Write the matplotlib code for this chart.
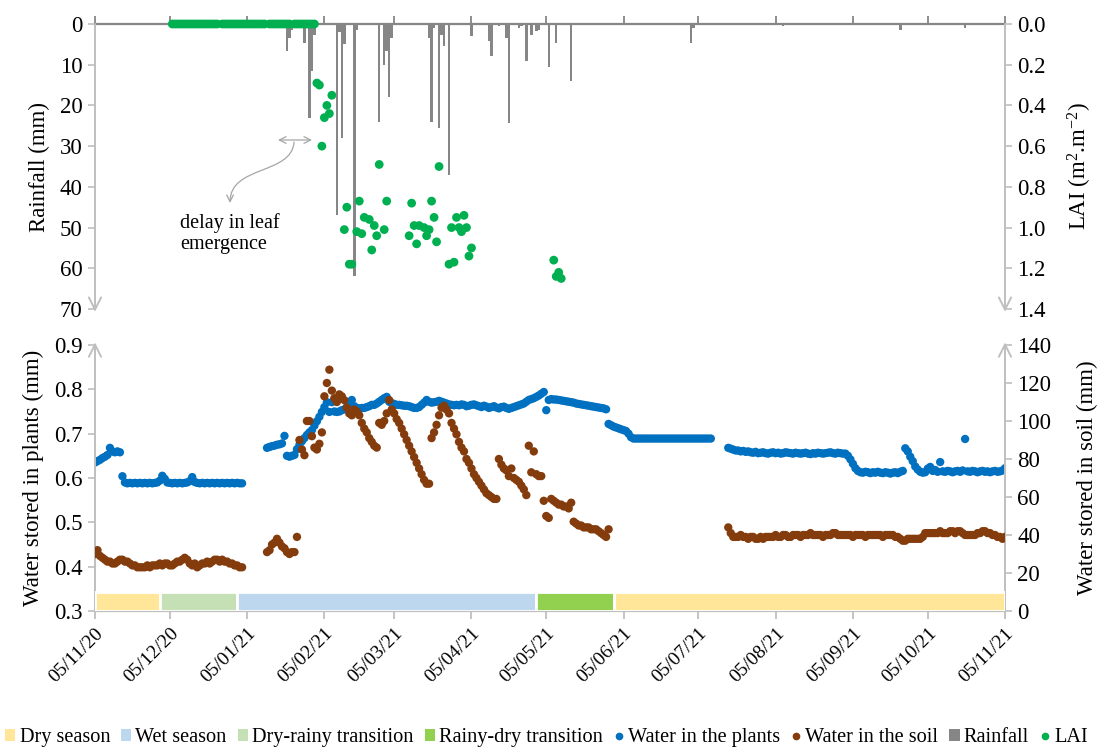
import numpy as np
import pandas as pd
import matplotlib
matplotlib.use("Agg")
import matplotlib.pyplot as plt
import matplotlib.dates as mdates
from matplotlib.patches import Patch, FancyArrowPatch
from matplotlib.lines import Line2D
from matplotlib.path import Path

plt.rcParams["font.family"] = ["Liberation Serif", "DejaVu Serif"]
plt.rcParams["mathtext.fontset"] = "custom"
plt.rcParams["mathtext.rm"] = "Liberation Serif"
plt.rcParams["mathtext.it"] = "Liberation Serif:italic"

START = pd.Timestamp("2020-11-05")
END = pd.Timestamp("2021-11-05")

# ---------------- rainfall (mm) ----------------
rain_dates = ["2021-01-21", "2021-01-22", "2021-01-23", "2021-01-28", "2021-01-30",
              "2021-01-31", "2021-02-01", "2021-02-10", "2021-02-11", "2021-02-12",
              "2021-02-13", "2021-02-17", "2021-02-18", "2021-02-27", "2021-03-01",
              "2021-03-02", "2021-03-03", "2021-03-04", "2021-03-19", "2021-03-20",
              "2021-03-21", "2021-03-23", "2021-03-24", "2021-03-25", "2021-03-27",
              "2021-04-05", "2021-04-12", "2021-04-13", "2021-04-16", "2021-04-19",
              "2021-04-20", "2021-04-24", "2021-04-25", "2021-04-27", "2021-04-29",
              "2021-05-01", "2021-05-02", "2021-05-06", "2021-05-09", "2021-05-15",
              "2021-07-02", "2021-07-03", "2021-08-08", "2021-09-24", "2021-10-20"]
rain_mm = [6.6, 3.4, 1.5, 4.7, 23.0,
           11.5, 2.7, 47.0, 2.0, 28.0,
           5.0, 62.0, 1.5, 24.0, 10.0,
           6.6, 18.0, 3.4, 3.4, 24.0,
           1.0, 25.6, 2.7, 5.4, 37.0,
           3.0, 4.2, 7.9, 0.5, 3.4,
           24.3, 1.0, 0.5, 9.0, 2.7,
           1.7, 1.5, 10.6, 4.7, 14.0,
           4.7, 1.0, 0.5, 1.5, 1.0]

# ---------------- LAI (m2.m-2), daily, None = no measurement ----------------
lai_start_1 = "2020-12-06"
lai_values_1 = [0, 0, 0, 0, 0, 0, 0, 0, 0, 0, 0, 0, 0, 0, 0, 0, 0, 0, 0, None,
                0, 0, 0, 0, 0, 0, 0, 0, 0, 0, 0, 0, 0, 0, 0, 0, 0, 0, None,
                0, 0, 0, 0, 0, 0, 0, 0, 0, None,
                0, 0, 0, 0, 0, 0, 0, 0, 0,
                0.29, 0.30, 0.60, 0.46, 0.40, 0.44, 0.35, None, None, None, None,
                1.01, 0.90, 1.18, 1.18, None, 1.02, 0.87, 1.03, 0.95, None,
                0.96, 1.11, 0.99, 1.04, 0.69, None, 1.01, 0.87]
lai_start_2 = "2021-03-11"
lai_values_2 = [1.04, 0.88, 0.99, 1.08, 0.99, None, 1.00, 1.04, 1.01, 0.87,
                0.95, 1.07, 0.70, None, None, None, 1.18, 1.00, 1.17, 0.95,
                1.00, 1.02, 0.94, 1.00, 1.14, 1.10]
lai_start_3 = "2021-05-08"
lai_values_3 = [1.16, 1.24, 1.22, 1.25]

# ---------------- water stored in plants (mm), daily ----------------
plants_start_1 = "2020-11-05"
plants_values_1 = [0.635, 0.638, 0.641, 0.645, 0.648, 0.652, 0.668, 0.660, 0.658, 0.660,
                   0.658, 0.604,
                   0.590, 0.588, 0.589, 0.588, 0.589, 0.588, 0.589, 0.588, 0.589, 0.588,
                   0.589, 0.588, 0.589, 0.590, 0.594, 0.605, 0.598, 0.590, 0.589, 0.588,
                   0.589, 0.588, 0.589, 0.588, 0.589, 0.590, 0.593, 0.602, 0.591, 0.589,
                   0.588, 0.589, 0.588, 0.589, 0.588, 0.589, 0.588, 0.589, 0.588, 0.589,
                   0.588, 0.589, 0.588, 0.589, 0.588, 0.589, 0.588, 0.588]
plants_start_2 = "2021-01-13"
plants_values_2 = [0.668, 0.670, 0.672, 0.673, 0.675, 0.676, 0.678,
                   0.695, 0.650, 0.648, 0.650, 0.652, 0.665, 0.675, 0.683, 0.690, 0.697,
                   0.703, 0.708, 0.718, 0.728, 0.738, 0.749, 0.760, 0.771,
                   0.749, 0.771, 0.750, 0.749, 0.750, 0.753, 0.755, 0.760, 0.768, 0.776,
                   0.762, 0.758, 0.757, 0.758, 0.758, 0.760, 0.762, 0.765, 0.765, 0.768,
                   0.772, 0.776, 0.780, 0.783,
                   0.772, 0.769, 0.767, 0.765, 0.765, 0.764, 0.763, 0.763, 0.762, 0.760,
                   0.758, 0.758, 0.760, 0.765, 0.770, 0.776, 0.772, 0.770, 0.771, 0.772,
                   0.774, 0.772, 0.770, 0.768,
                   0.766, 0.765, 0.764, 0.765, 0.764, 0.766, 0.765, 0.762, 0.763, 0.765,
                   0.766, 0.764, 0.762, 0.760, 0.763, 0.761, 0.758, 0.760, 0.762, 0.759,
                   0.757, 0.760, 0.761, 0.758,
                   0.756, 0.758, 0.760, 0.762, 0.764, 0.766, 0.768, 0.772, 0.776, 0.778,
                   0.780, 0.783, 0.786, 0.790, 0.794, 0.753, 0.776, 0.778, 0.777, 0.777,
                   0.776, 0.775, 0.774, 0.773,
                   0.772, 0.771, 0.770, 0.768, 0.767, 0.766, 0.765, 0.764, 0.763, 0.762,
                   0.761, 0.760, 0.759, 0.758, 0.757, 0.755, 0.722, 0.719, 0.716, 0.714,
                   0.712, 0.710, 0.708, 0.706,
                   0.700, 0.692, 0.689, 0.689, 0.689, 0.689, 0.689, 0.689, 0.689, 0.689,
                   0.689, 0.689, 0.689, 0.689, 0.689, 0.689, 0.689, 0.689, 0.689, 0.689,
                   0.689, 0.689, 0.689, 0.689, 0.689, 0.689, 0.689, 0.689, 0.689, 0.689,
                   0.689, 0.689, 0.689, 0.689]
plants_start_3 = "2021-07-17"
plants_values_3 = [0.668, 0.666, 0.664, 0.662, 0.662, 0.660, 0.661, 0.659, 0.660,
                   0.658, 0.657, 0.659, 0.656, 0.657, 0.658, 0.656, 0.655, 0.657, 0.658,
                   0.656, 0.657, 0.655, 0.656, 0.658, 0.657, 0.656, 0.655, 0.657, 0.656,
                   0.655, 0.656, 0.657, 0.655, 0.654, 0.656, 0.655, 0.657, 0.656, 0.655,
                   0.656, 0.657, 0.658, 0.656, 0.655, 0.657, 0.656, 0.655,
                   0.655, 0.650, 0.642, 0.632, 0.622, 0.616,
                   0.613, 0.612, 0.614, 0.613, 0.611, 0.613, 0.612, 0.614, 0.612, 0.611,
                   0.613, 0.612, 0.610, 0.612, 0.613, 0.611, 0.614, 0.616,
                   0.667, 0.660, 0.648, 0.638, 0.626, 0.619, 0.614, 0.612, 0.613, 0.621,
                   0.625, 0.616, 0.618, 0.614, 0.636,
                   0.615, 0.614, 0.616, 0.615, 0.613, 0.615, 0.616, 0.614, 0.617, 0.688,
                   0.615, 0.614, 0.616, 0.615, 0.613, 0.615, 0.616, 0.614, 0.615, 0.613,
                   0.615, 0.616, 0.614, 0.615, 0.617, 0.622]

# ---------------- water stored in soil (mm), daily ----------------
soil_start_1 = "2020-11-05"
soil_values_1 = [30, 32, 29, 28, 27, 26, 26, 25, 25, 26,
                 27, 27, 26, 26, 25, 24, 24, 23, 23, 23,
                 23, 24, 23, 24, 24, 24, 25, 24, 25, 25,
                 24, 24, 25, 26, 26, 27, 28, 27, 25, 24,
                 25, 23, 24, 25, 25, 26, 25, 26, 27, 27,
                 26, 27, 26, 26, 25, 25, 24, 24, 23, 23]
soil_start_2 = "2021-01-13"
soil_values_2 = [31, 32, 35, 36, 38, 36, 34, 33, 31, 30, 31, 31, 39,
                 90, 85, 82, 100, 100, 92, 86, 85, 88, 94, 113, 120, 127,
                 116, 112, 110, 114, 113, 111, 107, 104, 103, 106, 105, 103, 99, 96,
                 94, 91, 89, 87, 86, 99, 98, 100, 104, 111, 106, 104, 101, 99,
                 96, 93, 90, 87, 84, 81, 78, 75, 72, 69, 67,
                 67, 91, 94, 98, 103, 107, 108, 106, 104, 99,
                 96, 93, 89, 86, 84, 80, 78, 75, 72, 70,
                 68, 66, 64, 62, 61, 60, 59, 59,
                 80, 77, 75, 74, 71, 75, 70, 69, 68, 66, 64, 61,
                 87, 73, 84, 72, 71, 71, 58, 50, 49, 59,
                 58, 57, 56, 56, 55, 55, 54, 57, 47, 46,
                 45, 45, 44, 44, 44, 43, 43, 43, 42, 41,
                 40, 39, 43]
soil_start_3 = "2021-07-17"
soil_values_3 = [44, 41, 39, 39, 39, 40, 39, 39,
                 38, 39, 39, 38, 38, 39, 38, 39, 39, 39, 39, 40, 39, 39, 40, 40, 39, 39, 40,
                 40, 40, 39, 40, 40, 40, 41, 40, 40, 40, 40, 39, 40, 40, 40, 41, 41, 40, 40, 40,
                 40, 40, 40, 39, 40, 40, 40, 40, 39, 40, 40, 40, 40, 40, 40, 39, 40, 40, 40,
                 40, 39, 39, 38,
                 37, 37, 38, 38, 38, 38, 38, 38, 39,
                 41, 41, 41, 41, 41, 41, 42, 41, 41, 41, 42, 42, 41, 42, 42, 41, 40, 40,
                 40, 40, 40, 41, 41, 42, 42, 41, 41, 40, 40, 39, 39, 38, 39]

# ---------------- seasons ----------------
season_labels = ["Dry season", "Dry-rainy transition", "Wet season",
                 "Rainy-dry transition", "Dry season"]
season_start = ["2020-11-05", "2020-12-01", "2021-01-01", "2021-05-01", "2021-06-01"]
season_end = ["2020-12-01", "2021-01-01", "2021-05-01", "2021-06-01", "2021-11-05"]
season_colors = {"Dry season": "#FFE699", "Wet season": "#BDD7EE",
                 "Dry-rainy transition": "#C5E0B4", "Rainy-dry transition": "#92D050"}
season_band_height = 10

BLUE = "#0070C0"
BROWN = "#843C0C"
GREEN = "#00B050"
GRAY = "#868686"
AXIS_GRAY = "#BFBFBF"
FS = 16.5
DOT = 36


def daily(start, values):
    dates = pd.date_range(start, periods=len(values), freq="D")
    vals = np.array([np.nan if v is None else v for v in values], dtype=float)
    return dates, vals


def join(*segments):
    d = [daily(s, v) for s, v in segments]
    return (np.concatenate([x[0].values for x in d]),
            np.concatenate([x[1] for x in d]))


plants_x, plants_y = join((plants_start_1, plants_values_1),
                          (plants_start_2, plants_values_2),
                          (plants_start_3, plants_values_3))
soil_x, soil_y = join((soil_start_1, soil_values_1),
                      (soil_start_2, soil_values_2),
                      (soil_start_3, soil_values_3))
lai_x, lai_y = join((lai_start_1, lai_values_1),
                    (lai_start_2, lai_values_2),
                    (lai_start_3, lai_values_3))

W, H = 1102, 749
fig = plt.figure(figsize=(W / 100, H / 100), dpi=100)
ax_top = fig.add_axes([95 / W, 1 - 309 / H, 910 / W, 285 / H])
ax_bot = fig.add_axes([95 / W, 1 - 611 / H, 910 / W, 266 / H])

# ---------- upper panel: rainfall + LAI ----------
ax_top.bar(pd.to_datetime(rain_dates), rain_mm, width=1.0, color=GRAY, zorder=2)
ax_top.set_xlim(START, END)
ax_top.set_ylim(70, 0)
ax_top.set_yticks(np.arange(0, 71, 10))
ax_top.xaxis.set_major_locator(mdates.MonthLocator(bymonthday=5))
ax_top.xaxis.tick_top()
ax_top.tick_params(axis="x", labeltop=False, direction="out", length=6,
                   color="#868686", width=1.3)
ax_top.tick_params(axis="y", direction="out", length=5, color=AXIS_GRAY,
                   width=1.2, labelsize=FS, pad=4)
for side in ["bottom", "left", "right"]:
    ax_top.spines[side].set_visible(False)
ax_top.spines["top"].set_color("#868686")
ax_top.spines["top"].set_linewidth(1.6)
ax_top.set_ylabel("Rainfall (mm)", fontsize=FS, labelpad=7)

ax_lai = ax_top.twinx()
ax_lai.scatter(lai_x, lai_y, s=DOT + 4, color=GREEN, edgecolors="none", zorder=3,
               clip_on=False)
ax_lai.set_ylim(1.4, 0)
ax_lai.set_yticks(np.arange(0, 1.41, 0.2))
ax_lai.yaxis.set_major_formatter(matplotlib.ticker.FormatStrFormatter("%.1f"))
ax_lai.tick_params(axis="y", direction="out", length=5, color=AXIS_GRAY,
                   width=1.2, labelsize=FS, pad=4)
for sp in ax_lai.spines.values():
    sp.set_visible(False)
ax_lai.set_ylabel("LAI (m$^{2}$.m$^{-2}$)", fontsize=FS, labelpad=14)

for xpos in (0, 1):
    ax_top.annotate("", xy=(xpos, -0.01), xytext=(xpos, 1.0), xycoords="axes fraction",
                    annotation_clip=False,
                    arrowprops=dict(arrowstyle="->", color=AXIS_GRAY, lw=1.4,
                                    shrinkA=0, shrinkB=0, mutation_scale=22))

# note on leaf emergence
ax_top.text(0.0934, 0.265, "delay in leaf\nemergence", transform=ax_top.transAxes,
            fontsize=14.5, ha="left", va="center", linespacing=1.15)
ax_top.annotate("", xy=(0.2011, 0.593), xytext=(0.2385, 0.593), xycoords="axes fraction",
                arrowprops=dict(arrowstyle="<->", color="#A6A6A6", lw=0.9,
                                shrinkA=0, shrinkB=0, mutation_scale=12))
curve = Path([(0.2187, 0.5860), (0.2165, 0.4702), (0.1484, 0.5053), (0.1484, 0.3719)],
             [Path.MOVETO, Path.CURVE4, Path.CURVE4, Path.CURVE4])
ax_top.add_patch(FancyArrowPatch(path=curve, transform=ax_top.transAxes,
                                 arrowstyle="->", color="#A6A6A6", lw=0.9,
                                 mutation_scale=12))

# ---------- lower panel: water in plants + soil ----------
ax_bot.scatter(plants_x, plants_y, s=DOT, color=BLUE, edgecolors="none", zorder=3)
ax_bot.set_xlim(START, END)
ax_bot.set_ylim(0.3, 0.9)
ax_bot.set_yticks(np.arange(0.3, 0.91, 0.1))
ax_bot.yaxis.set_major_formatter(matplotlib.ticker.FormatStrFormatter("%.1f"))
ax_bot.xaxis.set_major_locator(mdates.MonthLocator(bymonthday=5))
ax_bot.xaxis.set_major_formatter(mdates.DateFormatter("%d/%m/%y"))
ax_bot.tick_params(axis="x", direction="out", length=6, color=AXIS_GRAY, width=1.3,
                   labelsize=14, pad=4)
for lab in ax_bot.get_xticklabels():
    lab.set_rotation(45)
    lab.set_ha("right")
    lab.set_rotation_mode("anchor")
ax_bot.tick_params(axis="y", direction="out", length=5, color=AXIS_GRAY,
                   width=1.2, labelsize=FS, pad=4)
for side in ["top", "left", "right"]:
    ax_bot.spines[side].set_visible(False)
ax_bot.spines["bottom"].set_color(AXIS_GRAY)
ax_bot.spines["bottom"].set_linewidth(1.6)
ax_bot.set_ylabel("Water stored in plants (mm)", fontsize=FS, labelpad=7)

ax_soil = ax_bot.twinx()
for lab, s0, s1 in zip(season_labels, season_start, season_end):
    t0, t1 = pd.Timestamp(s0), pd.Timestamp(s1)
    ax_soil.bar(t0, season_band_height, width=(t1 - t0).days, align="edge",
                color=season_colors[lab], edgecolor="white", linewidth=2.0, zorder=1)
ax_soil.scatter(soil_x, soil_y, s=DOT, color=BROWN, edgecolors="none", zorder=3)
ax_soil.set_ylim(0, 140)
ax_soil.set_yticks(np.arange(0, 141, 20))
ax_soil.tick_params(axis="y", direction="out", length=5, color=AXIS_GRAY,
                    width=1.2, labelsize=FS, pad=4)
for sp in ax_soil.spines.values():
    sp.set_visible(False)
ax_soil.set_xlim(START, END)
ax_soil.set_ylabel("Water stored in soil (mm)", fontsize=FS, labelpad=18)

for xpos in (0, 1):
    ax_bot.annotate("", xy=(xpos, 1.01), xytext=(xpos, 0.0), xycoords="axes fraction",
                    annotation_clip=False,
                    arrowprops=dict(arrowstyle="->", color=AXIS_GRAY, lw=1.4,
                                    shrinkA=0, shrinkB=0, mutation_scale=22))

# ---------- legend ----------
handles = [
    Patch(facecolor=season_colors["Dry season"], label="Dry season"),
    Patch(facecolor=season_colors["Wet season"], label="Wet season"),
    Patch(facecolor=season_colors["Dry-rainy transition"], label="Dry-rainy transition"),
    Patch(facecolor=season_colors["Rainy-dry transition"], label="Rainy-dry transition"),
    Line2D([], [], ls="", marker="o", markersize=4.5, color=BLUE, label="Water in the plants"),
    Line2D([], [], ls="", marker="o", markersize=4.5, color=BROWN, label="Water in the soil"),
    Patch(facecolor=GRAY, label="Rainfall"),
    Line2D([], [], ls="", marker="o", markersize=4.5, color=GREEN, label="LAI"),
]
fig.legend(handles=handles, ncol=8, loc="center", bbox_to_anchor=(0.496, 0.015),
           frameon=False, fontsize=14.6, handlelength=0.5, handleheight=0.55,
           handletextpad=0.2, columnspacing=0.55, borderpad=0, borderaxespad=0)

fig.savefig("out.png", dpi=100)
